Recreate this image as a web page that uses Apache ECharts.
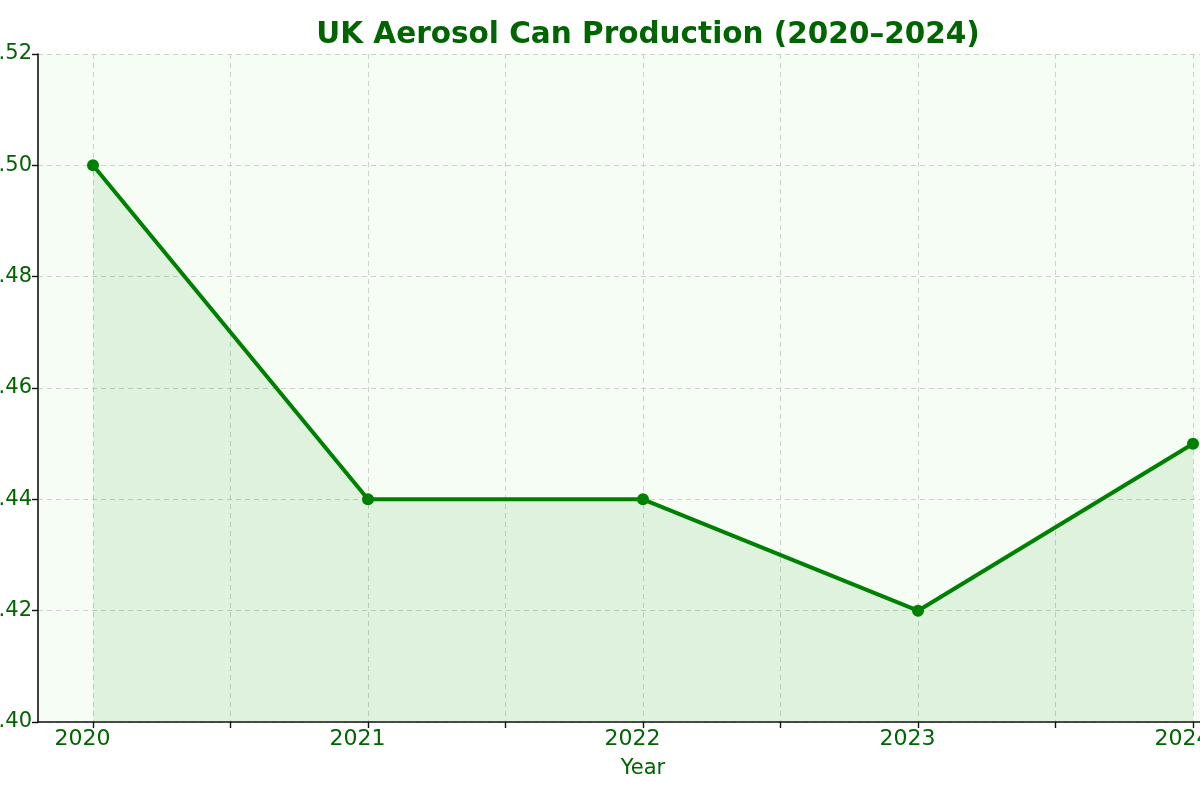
<!DOCTYPE html>
<html>
<head>
<meta charset="utf-8">
<script src="https://cdn.jsdelivr.net/npm/echarts@6/dist/echarts.min.js"></script>
<style>
  html, body { margin: 0; padding: 0; width: 1200px; height: 800px; overflow: hidden; background: #fff; }
  #chart { position: absolute; left: -60px; top: 0; width: 1320px; height: 800px; }
</style>
</head>
<body>
<div id="chart"></div>
<script>
// data
const years = [2020, 2021, 2022, 2023, 2024];
const production = [1.50, 1.44, 1.44, 1.42, 1.45]; // billion cans
const tickValues = [2020, 2020.5, 2021, 2021.5, 2022, 2022.5, 2023, 2023.5, 2024];
const labelValues = [2020, 2021, 2022, 2023, 2024];

const darkGreen = '#006400';
const chart = echarts.init(document.getElementById('chart'));

const option = {
  animation: false,
  textStyle: { fontFamily: 'DejaVu Sans' },
  title: {
    text: 'UK Aerosol Can Production (2020–2024)',
    left: 703,
    top: 15,
    textAlign: 'center',
    textStyle: { color: darkGreen, fontSize: 29.5, fontWeight: 'bold', fontFamily: 'DejaVu Sans' }
  },
  grid: {
    left: 98,
    right: 12,
    top: 54,
    bottom: 78,
    show: true,
    backgroundColor: '#f5fdf5',
    borderWidth: 0,
    outerBoundsMode: 'none'
  },
  xAxis: {
    type: 'value',
    min: 2019.8,
    max: 2024.2,
    name: 'Year',
    nameLocation: 'middle',
    nameGap: 36,
    nameTextStyle: { color: darkGreen, fontSize: 21 },
    axisLine: { show: true, onZero: false, lineStyle: { color: '#111', width: 1.6 } },
    axisTick: { show: true, length: 6, customValues: tickValues, lineStyle: { color: '#111', width: 1.4 } },
    axisLabel: {
      customValues: labelValues,
      color: darkGreen, fontSize: 22, margin: 6,
      padding: [0, 21, 0, 0],
      formatter: v => String(Math.round(v))
    },
    splitLine: { show: true, lineStyle: { color: '#c8d4c8', type: [5, 4], width: 1 } }
  },
  yAxis: {
    type: 'value',
    min: 1.40,
    max: 1.52,
    interval: 0.02,
    axisLine: { show: true, lineStyle: { color: '#111', width: 1.6 } },
    axisTick: { show: true, length: 6, lineStyle: { color: '#111', width: 1.4 } },
    axisLabel: { color: darkGreen, fontSize: 21, margin: 6, formatter: v => v.toFixed(2) },
    splitLine: { show: true, lineStyle: { color: '#c8d4c8', type: [5, 4], width: 1 } }
  },
  series: [{
    type: 'line',
    data: years.map((y, i) => [y, production[i]]),
    symbol: 'circle',
    symbolSize: 12,
    itemStyle: { color: '#008000' },
    lineStyle: { color: '#008000', width: 4 },
    areaStyle: { color: 'rgba(0,128,0,0.13)', origin: 'start' }
  }]
};

chart.setOption(option);
</script>
</body>
</html>
